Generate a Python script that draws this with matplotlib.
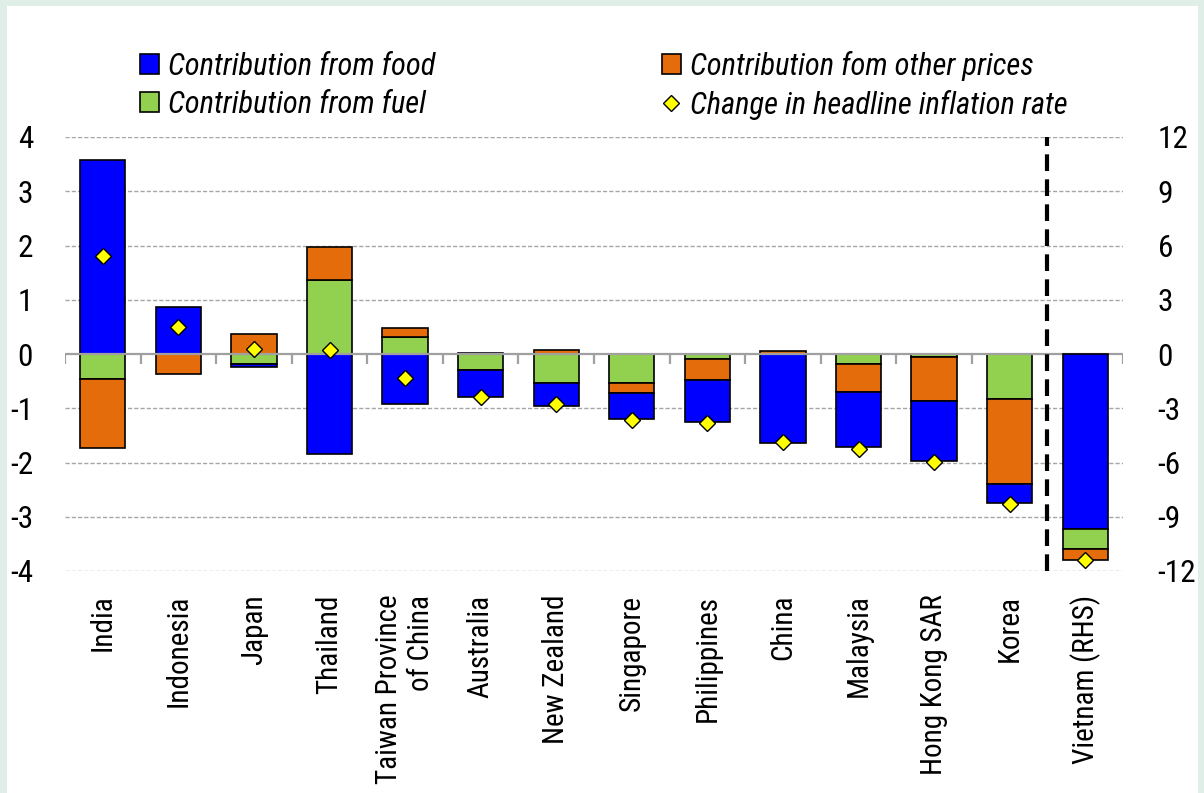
import matplotlib
matplotlib.use('Agg')
import matplotlib.pyplot as plt
from matplotlib import font_manager as fm
from matplotlib.patches import Patch, Rectangle
from matplotlib.lines import Line2D
import numpy as np

# ---------------- data ----------------
countries = ['India', 'Indonesia', 'Japan', 'Thailand', 'Taiwan Province\nof China',
             'Australia', 'New Zealand', 'Singapore', 'Philippines', 'China',
             'Malaysia', 'Hong Kong SAR', 'Korea', 'Vietnam (RHS)']
food     = [3.57, 0.87, -0.06, -1.84, -0.92, -0.51, -0.42, -0.49, -0.77, -1.64, -1.02, -1.11, -0.36, -9.70]
fuel     = [-0.47, 0.00, -0.18, 1.37, 0.31, -0.29, -0.54, -0.54, -0.09, 0.00, -0.18, -0.05, -0.83, -1.10]
other    = [-1.26, -0.36, 0.36, 0.60, 0.17, 0.02, 0.08, -0.17, -0.39, 0.05, -0.52, -0.82, -1.56, -0.57]
headline = [1.81, 0.50, 0.10, 0.08, -0.44, -0.80, -0.92, -1.22, -1.28, -1.62, -1.75, -1.99, -2.76, -11.40]
rhs_country = 'Vietnam (RHS)'

left_ticks = [4, 3, 2, 1, 0, -1, -2, -3, -4]
right_ticks = [12, 9, 6, 3, 0, -3, -6, -9, -12]

labels = {'food': 'Contribution from food', 'fuel': 'Contribution from fuel',
          'other': 'Contribution fom other prices', 'headline': 'Change in headline inflation rate'}
colors = {'food': '#0000FF', 'fuel': '#92D050', 'other': '#E46C0A'}
order_lhs = ['fuel', 'other', 'food']
order_rhs = ['food', 'fuel', 'other']

# ---------------- fonts ----------------
names = {f.name for f in fm.fontManager.ttflist}
fam = 'Liberation Sans'
for cand in ['Roboto Condensed', 'Archivo Narrow', 'Liberation Sans Narrow', 'Liberation Sans']:
    if cand in names:
        fam = cand
        break
plt.rcParams['font.family'] = [fam, 'DejaVu Sans']

FS_Y = 22.5
FS_X = 21
FS_L = 22

# ---------------- figure ----------------
W, H = 1204, 793
fig = plt.figure(figsize=(W / 100, H / 100), dpi=100, facecolor='#DFEFE8')
fig.patches.append(Rectangle((7 / W, 0), (1198 - 7) / W, 1 - 6 / H, transform=fig.transFigure,
                             facecolor='white', edgecolor='none', zorder=-10))

ax = fig.add_axes([65 / W, 1 - 571 / H, (1123 - 65) / W, (571 - 137) / H])
ax.set_facecolor('none')
ax2 = ax.twinx()
ax2.set_facecolor('none')

n = len(countries)
x = np.arange(n)
width = 0.6
series = {'food': food, 'fuel': fuel, 'other': other}

for i in range(n):
    is_rhs = countries[i] == rhs_country
    target = ax2 if is_rhs else ax
    order = order_rhs if is_rhs else order_lhs
    pos, neg = 0.0, 0.0
    for key in order:
        v = series[key][i]
        if v == 0:
            continue
        if v > 0:
            target.bar(x[i], v, width, bottom=pos, color=colors[key], edgecolor='black', linewidth=1.2, zorder=3)
            pos += v
        else:
            target.bar(x[i], v, width, bottom=neg, color=colors[key], edgecolor='black', linewidth=1.2, zorder=3)
            neg += v
    target.plot(x[i], headline[i], marker='D', ms=8, mfc='#FFFF00', mec='black', mew=1.0,
                linestyle='none', zorder=5)

ax.set_xlim(-0.5, n - 0.5)
ax.set_ylim(-4, 4)
ax2.set_ylim(-12, 12)

# gridlines
for t in left_ticks:
    if t != 0:
        ax.axhline(t, color='#A6A6A6', lw=1.0, ls=(0, (3, 1.5)), zorder=1)
ax.axhline(0, color='#A0A0A0', lw=1.6, zorder=4)
ax.vlines(np.arange(n + 1) - 0.5, 0, -0.18, color='#A0A0A0', lw=1.6, zorder=4)

# dashed separator before RHS
sep = countries.index(rhs_country) - 0.5
ax.vlines(sep, -4, 4, color='black', lw=3, linestyles=(0, (4, 2)), zorder=6)

for a in (ax, ax2):
    for s in a.spines.values():
        s.set_visible(False)

ax.set_yticks(left_ticks)
ax.set_yticklabels([str(t) for t in left_ticks], fontsize=FS_Y)
ax.tick_params(axis='y', length=0, pad=23)
ax2.set_yticks(right_ticks)
ax2.set_yticklabels([str(t) for t in right_ticks], fontsize=FS_Y)
ax2.tick_params(axis='y', length=0, pad=25)

ax.set_xticks(x)
ax.set_xticklabels(countries, rotation=90, fontsize=FS_X, multialignment='right', linespacing=1.15)
ax.tick_params(axis='x', length=0, pad=17)

handles = [Patch(facecolor=colors['food'], edgecolor='black', lw=1.2),
           Patch(facecolor=colors['fuel'], edgecolor='black', lw=1.2),
           Patch(facecolor=colors['other'], edgecolor='black', lw=1.2),
           Line2D([], [], marker='D', ms=8, mfc='#FFFF00', mec='black', mew=1.0, linestyle='none')]
leg = ax.legend(handles, [labels['food'], labels['fuel'], labels['other'], labels['headline']],
                ncol=2, loc='upper left', bbox_to_anchor=(140 / W, 1 - 51 / H), bbox_transform=fig.transFigure,
                frameon=False, prop={'family': [fam, 'DejaVu Sans'], 'style': 'italic', 'size': FS_L},
                handlelength=0.62, handleheight=0.62, handletextpad=0.3, columnspacing=7.4,
                labelspacing=0.28, borderpad=0, borderaxespad=0)

fig.savefig('out.png', dpi=100, facecolor=fig.get_facecolor())
